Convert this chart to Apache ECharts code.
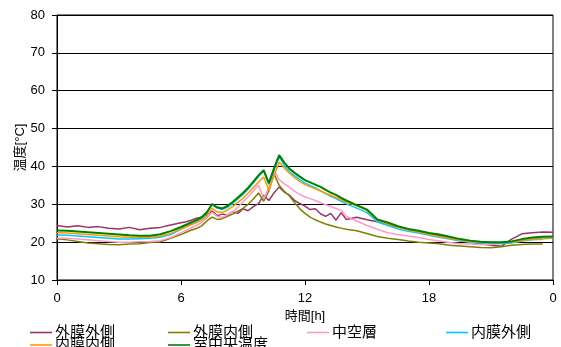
<!DOCTYPE html>
<html>
<head>
<meta charset="utf-8">
<script src="https://cdn.jsdelivr.net/npm/echarts@6/dist/echarts.min.js"></script>
<style>
  html, body { margin: 0; padding: 0; background: #fff; }
  #chart { width: 561px; height: 347px; }
</style>
</head>
<body>
<div id="chart"></div>
<script>
// Time of day in hours (denser sampling around the midday peak)
const hours = [
  0, 0.5, 1, 1.5, 2, 2.5, 3, 3.5, 4, 4.5, 5, 5.5, 6,
  6.25, 6.5, 6.75, 7, 7.25, 7.5, 7.75, 8, 8.25, 8.5, 8.75, 9, 9.25, 9.5, 9.75,
  10, 10.25, 10.5, 10.75, 11, 11.25, 11.5, 11.75, 12, 12.25, 12.5, 12.75,
  13, 13.25, 13.5, 13.75, 14,
  14.5, 15, 15.5, 16, 16.5, 17, 17.5, 18, 18.5, 19, 19.5, 20, 20.5, 21, 21.5,
  22, 22.5, 23, 23.5, 24
];

// Temperatures [°C]
const outerMembraneOuter = [
  24.4, 24.0, 24.3, 23.9, 24.1, 23.7, 23.5, 23.9, 23.3, 23.7, 23.9, 24.5, 25.1,
  25.4, 25.8, 26.3, 26.6, 27.3, 28.2, 27.0, 27.4, 27.2, 28.0, 27.6, 28.8, 28.3, 29.4,
  30.2, 32.4, 31.0, 33.0, 34.6, 33.2, 32.4, 31.0, 30.2, 29.5, 28.6, 28.8,
  27.5, 26.8, 27.6, 25.8, 27.8, 26.0,
  26.6, 25.9, 25.4, 24.6, 24.0, 23.4, 22.8, 22.2, 21.7, 21.0, 20.4, 20.0, 19.6, 19.2,
  18.9, 20.8, 22.2, 22.5, 22.7, 22.6
];
const outerMembraneInner = [
  20.9, 20.6, 20.2, 19.8, 19.6, 19.4, 19.3, 19.5, 19.6, 19.9, 20.1, 21.0, 22.0,
  22.6, 23.2, 23.6, 24.3, 25.6, 26.6, 26.0, 26.2, 26.8, 27.4, 28.2, 28.9, 30.0, 31.4,
  33.0, 30.8, 33.5, 38.1, 35.0, 33.4, 32.2, 30.4, 28.8, 27.6, 26.6, 25.9,
  25.3, 24.8, 24.4, 24.0, 23.7,
  23.4, 23.0, 22.3, 21.5, 21.0, 20.7, 20.3, 20.0, 19.8, 19.6, 19.2, 19.0, 18.8, 18.6,
  18.5, 18.8, 19.2, 19.4, 19.5, 19.5
];
const airLayer = [
  21.1, 21.0, 20.8, 20.6, 20.4, 20.2, 20.0, 20.0, 20.1, 20.2, 20.4, 21.2, 22.5,
  23.1, 23.8, 24.4, 25.2, 26.4, 27.9, 26.8, 26.6, 27.3, 28.0, 29.2, 30.6, 32.0, 33.5,
  35.0, 31.5, 34.5, 39.0, 36.5, 35.4, 34.5, 33.4, 32.6, 32.0, 31.5, 31.0,
  30.4, 29.9, 29.4, 28.9, 28.4,
  26.8, 25.6, 24.4, 23.4, 22.5, 22.0, 21.6, 21.2, 20.7, 20.3, 19.9, 19.6, 19.5, 19.4,
  19.4, 19.7, 20.1, 20.4, 20.6, 20.7
];
const innerMembraneOuter = [
  21.9, 21.8, 21.6, 21.4, 21.2, 21.0, 20.8, 20.8, 20.9, 21.0, 21.3, 22.0, 23.4,
  24.1, 24.8, 25.4, 26.2, 27.6, 30.2, 29.0, 28.6, 29.2, 30.2, 31.4, 32.6, 34.0, 35.6,
  37.4, 38.8, 35.3, 39.0, 42.6, 40.2, 38.6, 37.5, 36.5, 35.6, 35.0, 34.3,
  33.6, 32.8, 32.1, 31.5, 30.8, 30.1,
  29.0, 27.8, 25.4, 24.4, 23.5, 22.9, 22.4, 21.8, 21.3, 20.8, 20.3, 20.0, 19.8, 19.7,
  19.6, 19.8, 20.3, 20.7, 20.9, 21.0
];
const innerMembraneInner = [
  22.5, 22.4, 22.2, 22.0, 21.8, 21.6, 21.4, 21.3, 21.3, 21.3, 21.6, 22.3, 23.5,
  24.0, 24.6, 25.2, 25.8, 26.8, 29.0, 28.0, 27.8, 28.5, 29.4, 30.5, 31.6, 33.0, 34.4,
  35.8, 37.2, 33.8, 37.5, 41.2, 39.5, 38.2, 37.0, 36.0, 35.2, 34.6, 34.1,
  33.5, 32.9, 32.4, 31.8, 31.2, 30.6,
  29.6, 28.4, 25.9, 24.8, 23.9, 23.2, 22.7, 22.0, 21.5, 21.0, 20.5, 20.2, 20.0, 19.9,
  19.9, 20.0, 20.4, 20.8, 21.0, 21.1
];
const roomCenter = [
  23.1, 23.0, 22.8, 22.6, 22.4, 22.2, 22.0, 21.8, 21.7, 21.7, 22.1, 22.9, 24.0,
  24.6, 25.2, 25.8, 26.6, 27.9, 30.0, 29.2, 28.9, 29.6, 30.6, 31.8, 33.0, 34.4, 36.0,
  37.6, 39.0, 35.6, 39.5, 43.0, 41.0, 39.4, 38.3, 37.3, 36.4, 35.8, 35.2,
  34.6, 33.8, 33.1, 32.5, 31.7, 31.0,
  29.8, 28.6, 26.0, 25.2, 24.2, 23.5, 23.0, 22.4, 22.0, 21.4, 20.8, 20.4, 20.1, 20.0,
  20.0, 20.2, 20.8, 21.2, 21.4, 21.5
];

const seriesNames = ['外膜外側', '外膜内側', '中空層', '内膜外側', '内膜内側', '室中央温度'];
const seriesColors = ['#993366', '#808000', '#FF99CC', '#00CCFF', '#FF9900', '#008000'];
const seriesValues = [outerMembraneOuter, outerMembraneInner, airLayer,
                      innerMembraneOuter, innerMembraneInner, roomCenter];

const xTickLabels = ['0', '6', '12', '18', '0'];
const yTickLabels = ['10', '20', '30', '40', '50', '60', '70', '80'];

const xTitle = '時間[h]';
const yTitle = '温度[°C]';

const font = 'Arial, "Liberation Sans", "Noto Sans CJK JP", sans-serif';

// Legend laid out as a fixed 4-column grid, two rows
const legendSlots = [
  { left: 30, top: 325 }, { left: 168, top: 325 }, { left: 307, top: 325 }, { left: 446, top: 325 },
  { left: 30, top: 337.5 }, { left: 168, top: 337.5 }
];

const chart = echarts.init(document.getElementById('chart'), null, { renderer: 'canvas' });

const option = {
  backgroundColor: '#ffffff',
  animation: false,
  grid: {
    left: 57, right: 8, top: 15, bottom: 67,
    show: true, borderColor: '#000', borderWidth: 1
  },
  legend: seriesNames.map((name, i) => ({
    data: [name],
    left: legendSlots[i].left,
    top: legendSlots[i].top,
    icon: 'rect',
    itemWidth: 22,
    itemHeight: 1.6,
    itemGap: 0,
    padding: 0,
    textStyle: { fontSize: 15, color: '#000', fontFamily: font, padding: [0, 0, 0, -2] }
  })),
  xAxis: {
    type: 'value',
    min: 0, max: 24, interval: 6,
    name: xTitle,
    nameLocation: 'middle',
    nameGap: 30,
    nameMoveOverlap: false,
    nameTextStyle: { fontSize: 13, color: '#000', fontFamily: font },
    axisLine: { show: true, lineStyle: { color: '#000', width: 1 } },
    axisTick: { show: true, inside: false, length: 5, lineStyle: { color: '#000' } },
    axisLabel: {
      margin: 12, fontSize: 13, color: '#000', fontFamily: font,
      formatter: v => xTickLabels[Math.round(v / 6)]
    },
    splitLine: { show: false }
  },
  yAxis: {
    type: 'value',
    min: 10, max: 80, interval: 10,
    name: yTitle,
    nameLocation: 'middle',
    nameGap: 30,
    nameMoveOverlap: false,
    nameTextStyle: { fontSize: 13, color: '#000', fontFamily: font },
    axisLine: { show: true, lineStyle: { color: '#000', width: 1 } },
    axisTick: { show: true, inside: false, length: 5, lineStyle: { color: '#000' } },
    axisLabel: {
      margin: 12, fontSize: 13, color: '#000', fontFamily: font,
      formatter: v => yTickLabels[Math.round((v - 10) / 10)]
    },
    splitLine: { show: true, lineStyle: { color: '#000', width: 1 } }
  },
  series: seriesNames.map((name, i) => ({
    name,
    type: 'line',
    data: hours.map((h, k) => [h, seriesValues[i][k]]),
    symbol: 'none',
    color: seriesColors[i],
    lineStyle: { width: i === 5 ? 2 : 1.5, color: seriesColors[i] },
    z: 2 + i
  }))
};

chart.setOption(option);
</script>
</body>
</html>
